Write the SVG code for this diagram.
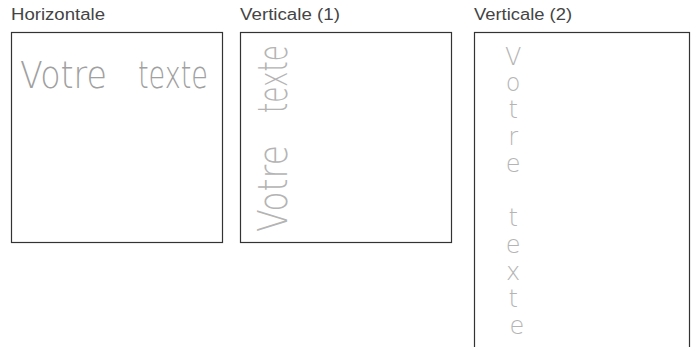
<svg xmlns="http://www.w3.org/2000/svg" width="692" height="347" viewBox="0 0 692 347">
<style>
.lbl{font-family:"Liberation Sans","DejaVu Sans",sans-serif;font-size:16px;fill:#444}
.box{fill:#fff;stroke:#333;stroke-width:1.2}
.cad{font-family:"DejaVu Sans","Liberation Sans",sans-serif;font-weight:200;fill:#a0a0a0}
.cad2{font-family:"DejaVu Sans","Liberation Sans",sans-serif;font-weight:200;fill:#b4b4b4}
</style>
<rect width="692" height="347" fill="#fff"/>
<g id="horizontale">
<text class="lbl" x="11" y="20" textLength="94" lengthAdjust="spacingAndGlyphs">Horizontale</text>
<rect class="box" x="11.5" y="32.5" width="211" height="210"/>
<text class="cad" y="88" font-size="38"><tspan x="20" textLength="87" lengthAdjust="spacingAndGlyphs">Votre</tspan><tspan x="138" textLength="70" lengthAdjust="spacingAndGlyphs">texte</tspan></text>
</g>
<g id="verticale1">
<text class="lbl" x="240" y="20" textLength="100" lengthAdjust="spacingAndGlyphs">Verticale (1)</text>
<rect class="box" x="240.5" y="32.5" width="211" height="210"/>
<text class="cad2" transform="translate(287,232) rotate(-90)" font-size="40"><tspan x="0" y="0" textLength="87" lengthAdjust="spacingAndGlyphs">Votre</tspan><tspan x="119" y="0" textLength="68" lengthAdjust="spacingAndGlyphs">texte</tspan></text>
</g>
<g id="verticale2">
<text class="lbl" x="474" y="20" textLength="98" lengthAdjust="spacingAndGlyphs">Verticale (2)</text>
<rect class="box" x="474.5" y="32.5" width="215" height="330"/>
<text class="cad2" font-size="24" text-anchor="middle">
<tspan x="517" y="65">V</tspan>
<tspan x="517" y="91">o</tspan>
<tspan x="517" y="118">t</tspan>
<tspan x="517" y="145">r</tspan>
<tspan x="517" y="172">e</tspan>
<tspan x="517" y="226">t</tspan>
<tspan x="517" y="253">e</tspan>
<tspan x="517" y="280">x</tspan>
<tspan x="517" y="307">t</tspan>
<tspan x="517" y="334">e</tspan>
</text>
</g>
</svg>
